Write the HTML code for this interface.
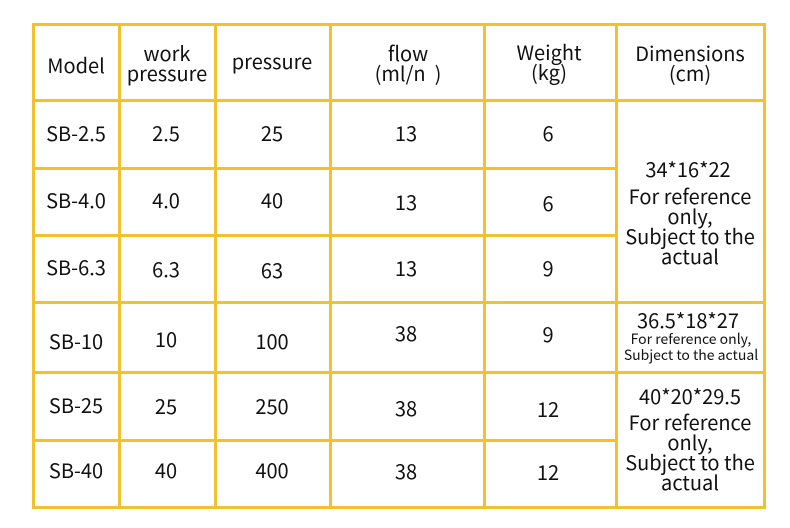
<!DOCTYPE html>
<html><head><meta charset="utf-8"><style>
body{margin:0;width:790px;height:528px;background:#fff;position:relative;overflow:hidden;font-family:"Noto Sans CJK SC","Liberation Sans",sans-serif;color:#111}
.h{position:absolute;height:3px;background:#f2c12e}
.v{position:absolute;width:3px;background:#f2c12e}
.t{position:absolute;transform:translate(-50%,-50%);margin-top:-1px;white-space:nowrap;font-size:20px;line-height:20px;text-align:center}
.s{font-size:14px;line-height:16px}
</style></head><body>
<div class="h" style="left:32px;width:734px;top:23px"></div>
<div class="h" style="left:32px;width:734px;top:99px"></div>
<div class="h" style="left:32px;width:584px;top:167px"></div>
<div class="h" style="left:32px;width:584px;top:234px"></div>
<div class="h" style="left:32px;width:734px;top:301px"></div>
<div class="h" style="left:32px;width:734px;top:371px"></div>
<div class="h" style="left:32px;width:584px;top:439px"></div>
<div class="h" style="left:32px;width:734px;top:506px"></div>
<div class="v" style="top:23px;height:486px;left:32px"></div>
<div class="v" style="top:23px;height:486px;left:118px"></div>
<div class="v" style="top:23px;height:486px;left:214px"></div>
<div class="v" style="top:23px;height:486px;left:329px"></div>
<div class="v" style="top:23px;height:486px;left:483px"></div>
<div class="v" style="top:23px;height:486px;left:615px"></div>
<div class="v" style="top:23px;height:486px;left:763px"></div>

<div class="t" style="left:76px;top:66px">Model</div>
<div class="t" style="left:167px;top:64px">work<br>pressure</div>
<div class="t" style="left:272px;top:62px">pressure</div>
<div class="t" style="left:408px;top:64px">flow<br>(ml/n&nbsp;&nbsp;)</div>
<div class="t" style="left:549px;top:63px">Weight<br>(kg)</div>
<div class="t" style="left:690px;top:64px">Dimensions<br>(cm)</div>

<div class="t" style="left:76px;top:134px">SB-2.5</div>
<div class="t" style="left:166px;top:134px">2.5</div>
<div class="t" style="left:272px;top:134px">25</div>
<div class="t" style="left:406px;top:134px">13</div>
<div class="t" style="left:548px;top:134px">6</div>

<div class="t" style="left:76px;top:201px">SB-4.0</div>
<div class="t" style="left:166px;top:201px">4.0</div>
<div class="t" style="left:272px;top:201px">40</div>
<div class="t" style="left:406px;top:203px">13</div>
<div class="t" style="left:548px;top:204px">6</div>

<div class="t" style="left:76px;top:268px">SB-6.3</div>
<div class="t" style="left:166px;top:270px">6.3</div>
<div class="t" style="left:272px;top:271px">63</div>
<div class="t" style="left:406px;top:269px">13</div>
<div class="t" style="left:548px;top:269px">9</div>

<div class="t" style="left:76px;top:342px">SB-10</div>
<div class="t" style="left:166px;top:340px">10</div>
<div class="t" style="left:272px;top:342px">100</div>
<div class="t" style="left:406px;top:334px">38</div>
<div class="t" style="left:548px;top:335px">9</div>

<div class="t" style="left:76px;top:406px">SB-25</div>
<div class="t" style="left:166px;top:407px">25</div>
<div class="t" style="left:272px;top:407px">250</div>
<div class="t" style="left:406px;top:409px">38</div>
<div class="t" style="left:548px;top:410px">12</div>

<div class="t" style="left:76px;top:471px">SB-40</div>
<div class="t" style="left:166px;top:471px">40</div>
<div class="t" style="left:272px;top:471px">400</div>
<div class="t" style="left:406px;top:472px">38</div>
<div class="t" style="left:548px;top:473px">12</div>

<div class="t" style="left:688px;top:170px">34*16*22</div>
<div class="t" style="left:690px;top:227px">For reference<br>only,<br>Subject to the<br>actual</div>
<div class="t" style="left:688px;top:321px">36.5*18*27</div>
<div class="t s" style="left:691px;top:348px">For reference only,<br>Subject to the actual</div>
<div class="t" style="left:690px;top:397px">40*20*29.5</div>
<div class="t" style="left:690px;top:453px">For reference<br>only,<br>Subject to the<br>actual</div>
</body></html>
